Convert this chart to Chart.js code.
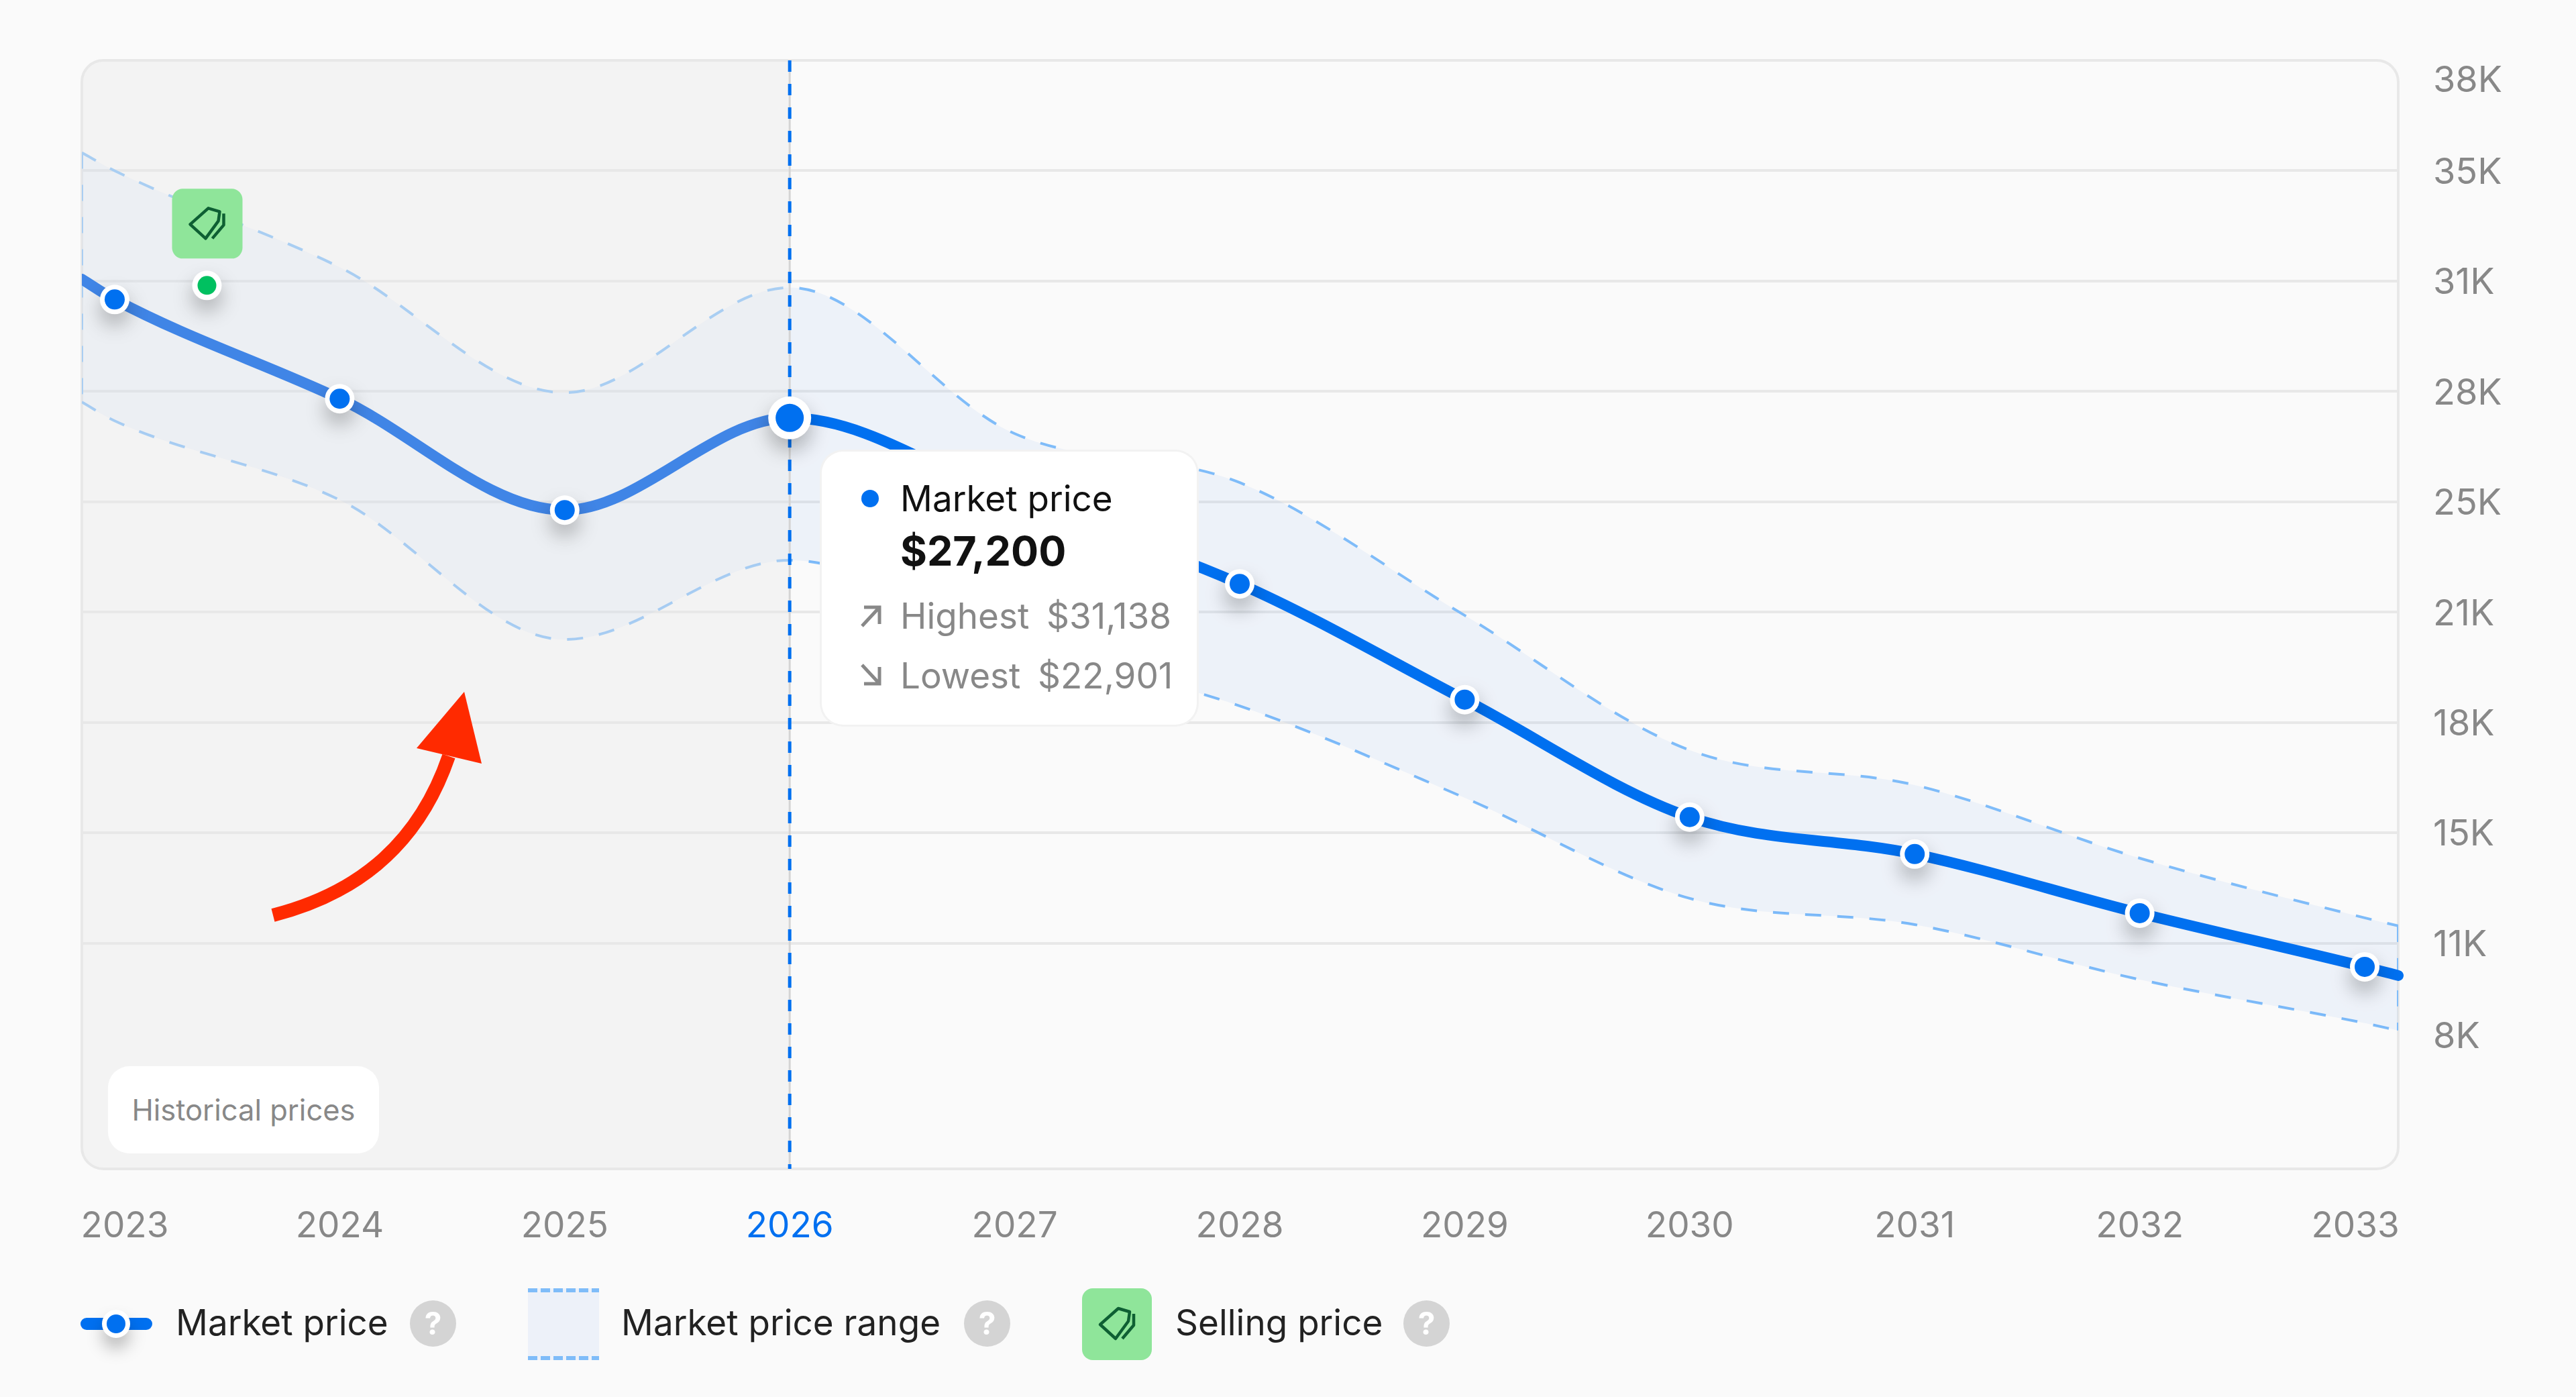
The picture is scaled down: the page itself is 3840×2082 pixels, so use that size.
<!DOCTYPE html>
<html>

<head>
    <title>Market price</title>
    <script src="https://cdn.jsdelivr.net/npm/chart.js@4"></script>
    <style>
        html, body { margin: 0; padding: 0; background: #fafafa; }
        body { width: 3840px; height: 2082px; position: relative; overflow: hidden; font-family: Inter, sans-serif; }
        canvas { position: absolute; left: 0; top: 0; }
        .abs { position: absolute; white-space: nowrap; }
        .txt { line-height: 80px; height: 80px; font-size: 53px; }
        #tip { left: 1225px; top: 673px; width: 559px; height: 407px; background: #fff; border-radius: 32px; box-shadow: 0 0 0 3px #f2f2f2; }
        .grey { color: #888; }
        .dark { color: #111; }
        #chip { left: 161px; top: 1589px; width: 404px; height: 130px; line-height: 130px; background: #fff; border-radius: 32px; text-align: center; font-size: 43.5px; color: #888; }
        .help { width: 69px; height: 69px; top: 1938px; border-radius: 50%; background: #d4d4d4; color: #fff; font-weight: 700; font-size: 46px; line-height: 69px; text-align: center; }
        .leg { top: 1931px; color: #222; }
    </style>
</head>

<body>
    <canvas id="priceChart" width="3840" height="2082"></canvas>

    <svg class="abs" style="left:0;top:0" width="3840" height="2082">
        <path d="M407 1364 C520 1335 620 1270 669 1127" fill="none" stroke="#ff2a00" stroke-width="20" />
        <polygon points="692,1031 621,1115 718,1138" fill="#ff2a00" />
    </svg>

    <div id="chip" class="abs">Historical prices</div>

    <div id="tip" class="abs"></div>
    <div class="abs" style="left:1284px;top:730px;width:26px;height:26px;border-radius:50%;background:#0070f0"></div>
    <div class="abs txt dark" style="left:1342px;top:703px">Market price</div>
    <div class="abs txt dark" style="left:1342px;top:781px;font-size:61px;font-weight:700">$27,200</div>
    <svg class="abs" style="left:1282px;top:900px" width="32" height="36" fill="none" stroke="#888" stroke-width="5">
        <path d="M3 33 L29 5 M6 5 H29 V30" />
    </svg>
    <div class="abs txt grey" style="left:1342px;top:878px">Highest</div>
    <div class="abs txt grey" style="left:1560px;top:878px">$31,138</div>
    <svg class="abs" style="left:1282px;top:988px" width="32" height="36" fill="none" stroke="#888" stroke-width="5">
        <path d="M3 3 L29 31 M6 31 H29 V6" />
    </svg>
    <div class="abs txt grey" style="left:1342px;top:967px">Lowest</div>
    <div class="abs txt grey" style="left:1547px;top:967px">$22,901</div>

    <div class="abs" style="left:120px;top:1964px;width:107px;height:18px;border-radius:9px;background:#0070f0"></div>
    <div class="abs" style="left:152px;top:1952px;width:28px;height:28px;border-radius:50%;background:#0070f0;border:7px solid #fff;box-shadow:0 16px 24px rgba(0,0,0,.25)"></div>
    <div class="abs txt leg" style="left:262px">Market price</div>
    <div class="abs help" style="left:611px">?</div>

    <svg class="abs" style="left:787px;top:1920px" width="106" height="107">
        <rect width="106" height="107" fill="#edf1f9" />
        <path d="M0 3 H106 M0 104 H106" stroke="#7fbcf9" stroke-width="6" stroke-dasharray="14 5" fill="none" />
    </svg>
    <div class="abs txt leg" style="left:926px">Market price range</div>
    <div class="abs help" style="left:1437px">?</div>

    <svg class="abs" style="left:1613px;top:1920px" width="104" height="107">
        <rect width="104" height="107" rx="16" fill="#8fe59a" />
        <path transform="translate(25 29)" d="M29 1 L46 6 L44 20 L25 46 L2 25 Z M52 9 L52 26 L35 46" fill="none" stroke="#0e5f33" stroke-width="4.5" stroke-linejoin="round" />
    </svg>
    <div class="abs txt leg" style="left:1752px">Selling price</div>
    <div class="abs help" style="left:2092px">?</div>

    <script>
        const years = [2023, 2024, 2025, 2026, 2027, 2028, 2029, 2030, 2031, 2032, 2033];
        const marketPrice = [30777, 27779, 24415, 27200, 24693, 22187, 18689, 15141, 14025, 12239, 10618];
        const rangeHigh = [34667, 31750, 27961, 31138, 26725, 25246, 21235, 17163, 16109, 13900, 12098];
        const rangeLow = [27110, 24720, 20505, 22901, 20400, 18500, 15724, 12685, 11894, 10233, 8917];
        // values where the curves hit the left and right side of the plot box
        const edgeYears = [2022.854, 2033.149];
        const edgeMarket = [31392, 10355];
        const edgeHigh = [35214, 11855];
        const edgeLow = [27677, 8694];
        const sellingYear = [2023.41];
        const sellingPrice = [31203];
        const currentYear = 2026;
        const yTicks = [8000, 11333, 14667, 18000, 21333, 24667, 28000, 31333, 34667, 38000];
        const yRange = [4515, 38000];

        const BLUE = '#0070f0';
        const BLUE_PAST = '#4085e6';
        const RANGE_LINE = '#7fbcf9';
        const GREY_TEXT = '#888888';
        const TAG_ICON = 'M29 1 L46 6 L44 20 L25 46 L2 25 Z M52 9 L52 26 L35 46';

        function withEdges(values, edges) {
            const pts = values.map((v, i) => ({ x: years[i], y: v }));
            pts.unshift({ x: edgeYears[0], y: edges[0] });
            pts.push({ x: edgeYears[1], y: edges[1] });
            return pts;
        }

        function roundedPath(ctx, x, y, w, h, r) {
            ctx.beginPath();
            ctx.roundRect(x, y, w, h, r);
        }

        const marketPoints = years.map((y, i) => ({ x: y, y: marketPrice[i] }));
        const sellingPoints = sellingYear.map((y, i) => ({ x: y, y: sellingPrice[i] }));

        // box behind the plot, and a grey veil over the past years that also mutes the range
        const plotBox = {
            id: 'plotBox',
            beforeDraw(chart) {
                const a = chart.chartArea, ctx = chart.ctx;
                ctx.save();
                roundedPath(ctx, a.left, a.top, a.width, a.height, 32);
                ctx.strokeStyle = '#e8e8e8';
                ctx.lineWidth = 4;
                ctx.stroke();
                ctx.restore();
            },
            beforeDatasetDraw(chart, args) {
                if (args.meta.controller.getDataset().label !== 'Market price') return;
                const a = chart.chartArea, ctx = chart.ctx;
                const split = chart.scales.x.getPixelForValue(currentYear);
                ctx.save();
                roundedPath(ctx, a.left, a.top, split - a.left, a.height, [32, 0, 0, 32]);
                ctx.fillStyle = 'rgba(232, 232, 232, 0.4)';
                ctx.fill();
                ctx.restore();
            }
        };

        // first and last labels of both axes sit further inside than their ticks
        const labelNudge = {
            id: 'labelNudge',
            afterLayout(chart) {
                const xItems = chart.scales.x.getLabelItems();
                const yItems = chart.scales.y.getLabelItems();
                xItems[0].options.translation[0] += 15;
                xItems[xItems.length - 1].options.translation[0] -= 14;
                yItems.forEach(item => { item.options.translation[1] += 3; });
                yItems[0].options.translation[1] -= 27;
                yItems[yItems.length - 1].options.translation[1] += 28;
            }
        };

        // only the white discs under the points cast a shadow
        const pointShadow = {
            id: 'pointShadow',
            beforeDatasetDraw(chart, args) {
                if (!args.meta.controller.getDataset().shadow) return;
                const ctx = chart.ctx;
                ctx.save();
                ctx.shadowColor = 'rgba(0,0,0,0.28)';
                ctx.shadowBlur = 30;
                ctx.shadowOffsetY = 16;
            },
            afterDatasetDraw(chart, args) {
                if (args.meta.controller.getDataset().shadow) chart.ctx.restore();
            }
        };

        // green tag above the selling price point
        const sellingBadge = {
            id: 'sellingBadge',
            afterDatasetsDraw(chart) {
                const ctx = chart.ctx;
                const px = chart.scales.x.getPixelForValue(sellingYear[0]);
                const py = chart.scales.y.getPixelForValue(sellingPrice[0]);
                ctx.save();
                roundedPath(ctx, px - 52, py - 144, 105, 104, 16);
                ctx.fillStyle = '#8fe59a';
                ctx.fill();
                ctx.translate(px - 27, py - 116);
                ctx.strokeStyle = '#0e5f33';
                ctx.lineWidth = 4.5;
                ctx.lineJoin = 'round';
                ctx.stroke(new Path2D(TAG_ICON));
                ctx.restore();
            }
        };

        const priceChart = new Chart(document.getElementById('priceChart').getContext('2d'), {
            type: 'line',
            data: {
                datasets: [
                    {
                        label: 'Market price points',
                        data: marketPoints,
                        showLine: false,
                        order: 1,
                        pointBackgroundColor: BLUE,
                        pointBorderWidth: 0,
                        pointRadius: years.map(y => y === currentYear ? 21 : 15)
                    },
                    {
                        label: 'Market price discs',
                        data: marketPoints,
                        showLine: false,
                        shadow: true,
                        order: 1.5,
                        pointBackgroundColor: '#fff',
                        pointBorderWidth: 0,
                        pointRadius: years.map(y => y === currentYear ? 32 : 22)
                    },
                    {
                        label: 'Selling price',
                        data: sellingPoints,
                        showLine: false,
                        order: 2,
                        pointBackgroundColor: '#00c060',
                        pointBorderWidth: 0,
                        pointRadius: 14
                    },
                    {
                        label: 'Selling price disc',
                        data: sellingPoints,
                        showLine: false,
                        shadow: true,
                        order: 2.2,
                        pointBackgroundColor: '#fff',
                        pointBorderWidth: 0,
                        pointRadius: 22
                    },
                    {
                        label: 'Current year',
                        data: [{ x: currentYear, y: yRange[1] }, { x: currentYear, y: yRange[0] }],
                        order: 2.5,
                        borderColor: BLUE,
                        borderWidth: 5,
                        borderDash: [17, 18],
                        pointRadius: 0
                    },
                    {
                        label: 'Current year base',
                        data: [{ x: currentYear, y: yRange[1] }, { x: currentYear, y: yRange[0] }],
                        order: 2.6,
                        borderColor: '#d4d4d4',
                        borderWidth: 3,
                        pointRadius: 0
                    },
                    {
                        label: 'Market price',
                        data: withEdges(marketPrice, edgeMarket),
                        order: 3,
                        borderColor: BLUE,
                        borderWidth: 16,
                        borderCapStyle: 'round',
                        cubicInterpolationMode: 'monotone',
                        pointRadius: 0,
                        clip: { left: 0, top: 0, right: 12, bottom: 0 },
                        segment: {
                            borderColor: c => c.p1.parsed.x <= currentYear ? BLUE_PAST : BLUE
                        }
                    },
                    {
                        label: 'Range left side',
                        data: [{ x: edgeYears[0], y: edgeHigh[0] }, { x: edgeYears[0], y: edgeLow[0] }],
                        order: 6,
                        borderColor: RANGE_LINE,
                        borderWidth: 4,
                        borderDash: [24, 24],
                        pointRadius: 0
                    },
                    {
                        label: 'Range right side',
                        data: [{ x: edgeYears[1], y: edgeHigh[1] }, { x: edgeYears[1], y: edgeLow[1] }],
                        order: 6,
                        borderColor: RANGE_LINE,
                        borderWidth: 4,
                        borderDash: [24, 24],
                        pointRadius: 0
                    },
                    {
                        label: 'Market price range',
                        data: withEdges(rangeHigh, edgeHigh),
                        order: 7,
                        borderColor: RANGE_LINE,
                        borderWidth: 4,
                        borderDash: [24, 24],
                        cubicInterpolationMode: 'monotone',
                        pointRadius: 0,
                        fill: '+1',
                        backgroundColor: 'rgba(0, 90, 230, 0.05)'
                    },
                    {
                        label: 'Market price range low',
                        data: withEdges(rangeLow, edgeLow),
                        order: 8,
                        borderColor: RANGE_LINE,
                        borderWidth: 4,
                        borderDash: [24, 24],
                        cubicInterpolationMode: 'monotone',
                        pointRadius: 0
                    }
                ]
            },
            options: {
                responsive: false,
                animation: false,
                devicePixelRatio: 1,
                layout: { padding: { left: 122, top: 90, right: 0, bottom: 0 } },
                plugins: {
                    legend: { display: false },
                    tooltip: { enabled: false }
                },
                events: [],
                scales: {
                    x: {
                        type: 'linear',
                        min: edgeYears[0],
                        max: edgeYears[1],
                        afterBuildTicks: s => { s.ticks = years.map(value => ({ value })); },
                        afterFit: s => { s.height = 340; },
                        grid: { display: false },
                        border: { display: false },
                        ticks: {
                            autoSkip: false,
                            maxRotation: 0,
                            padding: 46,
                            font: { family: 'Inter', size: 53 },
                            color: c => c.tick.value === currentYear ? BLUE : GREY_TEXT,
                            callback: v => String(v)
                        }
                    },
                    y: {
                        type: 'linear',
                        position: 'right',
                        min: yRange[0],
                        max: yRange[1],
                        afterBuildTicks: s => { s.ticks = yTicks.map(value => ({ value })); },
                        afterFit: s => { s.width = 265; },
                        border: { display: false },
                        grid: {
                            drawTicks: false,
                            lineWidth: 4,
                            color: c => (c.tick.value === yTicks[0] || c.tick.value === yTicks[yTicks.length - 1]) ? 'transparent' : '#e8e8e8'
                        },
                        ticks: {
                            autoSkip: false,
                            padding: 52,
                            font: { family: 'Inter', size: 54 },
                            color: GREY_TEXT,
                            callback: v => Math.round(v / 1000) + 'K'
                        }
                    }
                }
            },
            plugins: [plotBox, labelNudge, pointShadow, sellingBadge]
        });
    </script>
</body>

</html>
